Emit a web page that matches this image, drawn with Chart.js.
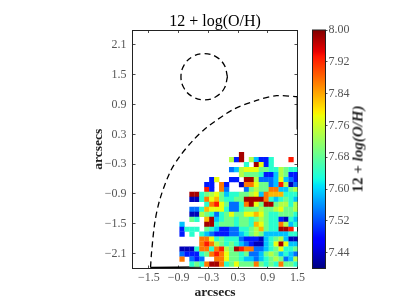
<!DOCTYPE html>
<html>
<head>
<meta charset="utf-8">
<title>12 + log(O/H)</title>
<script src="https://cdn.jsdelivr.net/npm/chart.js@4"></script>
<style>
    html, body { margin: 0; padding: 0; background: #fff; }
    #wrap { position: relative; width: 399px; height: 299px; overflow: hidden; }
    canvas { position: absolute; left: 0; top: 0; filter: blur(0.35px); }
    #cbLabel {
        position: absolute; left: 358px; top: 148.5px; white-space: nowrap;
        font: bold 15px "Liberation Serif", serif; color: #222;
        transform: translate(-50%, -50%) rotate(-90deg);
    }
</style>
</head>
<body>
<div id="wrap">
    <canvas id="mapChart" width="399" height="299"></canvas>
    <canvas id="barChart" width="399" height="299"></canvas>
    <div id="cbLabel">12 + <i>log(O/H)</i></div>
</div>
<script>
// columns (arcsec), rows (arcsec)
const colX = [-0.83, -0.73, -0.63, -0.53, -0.43, -0.33, -0.23, -0.13, -0.03, 0.07, 0.17, 0.27,
    0.37, 0.47, 0.57, 0.67, 0.77, 0.87, 0.97, 1.07, 1.17, 1.27, 1.37, 1.47];
const rowY = [-0.11, -0.21, -0.31, -0.41, -0.51, -0.61, -0.71, -0.81, -0.91, -1.01, -1.11, -1.21,
    -1.31, -1.41, -1.51, -1.61, -1.71, -1.81, -1.91, -2.01, -2.11, -2.21, -2.31];

// colour levels, one letter per pixel, '.' = no data
const levelCodes = ['k', 'b', 'l', 'c', 't', 'g', 'y', 'Y', 'o', 'O', 'r', 'd'];
const levelValues = [7.43, 7.49, 7.54, 7.59, 7.64, 7.69, 7.74, 7.78, 7.83, 7.87, 7.93, 7.98];
const rows = [
    '............d...........',
    '..........ybd.ycbbt...r.',
    '.............t.dYbt.....',
    '..........lcyYYYggttygtt',
    '............ygggtbbcygbb',
    '......bY..bb.ddylllcYclb',
    '.....bb.Ob..kOOYgglcrykl',
    '.....rb.Ol...lgyggOOccgy',
    '..ddtgyYgcttggyYcOooottt',
    '..kktOYogttggddddOtctgtc',
    '.....tOrYglltOdYgddgyyty',
    '..lltoYYYtlltgggyggyYggy',
    '..kkygtltgYggYYoYgttgggt',
    '..gt.odctggtggtgygttbktc',
    'c....ddtgggtggtoYgttOyct',
    'bttt.gtcbbllttgyogttddr.',
    'b.t.tclbbbllctgygccccctt',
    '....OOYtgtttlbbbkctgyckk',
    '....OrOygtgtclbkkctYdYcc',
    'kkktOOtOrygdrOOllctgYttg',
    'lbbbtgOrOYggtgllcgygctcl',
    'O.lbl..OOYggtcclctgyglcy',
    '..tgtOddOtgYgggOgtgtOggt'
];

// dashed outlines
const circleX = [0.086, 0.023, -0.148, -0.383, -0.618, -0.789, -0.852, -0.789, -0.618, -0.383, -0.148, 0.023, 0.086];
const circleY = [1.46, 1.693, 1.864, 1.926, 1.864, 1.693, 1.46, 1.227, 1.056, 0.994, 1.056, 1.227, 1.46];
const arcX = [-1.466, -1.445, -1.379, -1.278, -1.076, -0.874, -0.611, -0.334, 0.197, 0.676, 1.08, 1.49];
const arcY = [-2.375, -2.074, -1.472, -1.01, -0.468, -0.14, 0.175, 0.436, 0.797, 0.984, 1.078, 1.058];
// where the outline runs along the frame it reads as solid
const edgeBottomX = [-1.47, -0.45];
const edgeBottomY = [-2.38, -2.37];
const edgeRightX = [1.495, 1.495];
const edgeRightY = [1.05, 0.4];

const xTicks = [-1.5, -0.9, -0.3, 0.3, 0.9, 1.5];
const yTicks = [-2.1, -1.5, -0.9, -0.3, 0.3, 0.9, 1.5, 2.1];
const barTicks = [7.44, 7.52, 7.6, 7.68, 7.76, 7.84, 7.92, 8.0];
const valueMin = 7.4;
const valueMax = 8.0;

const SERIF = '"Liberation Serif", serif';
const TICK_FONT = { family: SERIF, size: 12 };
const TICK_COLOR = '#555';
const LINE_COLOR = '#222';

// matplotlib jet
function jet(t) {
    const ramp = (pts) => {
        for (let i = 1; i < pts.length; i++) {
            if (t <= pts[i][0]) {
                const f = (t - pts[i - 1][0]) / (pts[i][0] - pts[i - 1][0]);
                return Math.round(255 * (pts[i - 1][1] + f * (pts[i][1] - pts[i - 1][1])));
            }
        }
        return Math.round(255 * pts[pts.length - 1][1]);
    };
    const r = ramp([[0, 0], [0.35, 0], [0.66, 1], [0.89, 1], [1, 0.5]]);
    const g = ramp([[0, 0], [0.125, 0], [0.375, 1], [0.64, 1], [0.91, 0], [1, 0]]);
    const b = ramp([[0, 0.5], [0.11, 1], [0.34, 1], [0.65, 0], [1, 0]]);
    return `rgb(${r},${g},${b})`;
}

function valueColor(v) {
    return jet((v - valueMin) / (valueMax - valueMin));
}

function minusLabel(digits) {
    return v => (v < 0 ? '\u2212' : '') + Math.abs(v).toFixed(digits);
}

function buildCells() {
    const cells = [];
    rows.forEach((row, r) => {
        row.split('').forEach((code, c) => {
            const i = levelCodes.indexOf(code);
            if (i >= 0) cells.push({ x: colX[c], y: rowY[r], v: levelValues[i] });
        });
    });
    return cells;
}

function toPoints(xs, ys) {
    return xs.map((x, i) => ({ x, y: ys[i] }));
}

function outline(xs, ys, dash, tension) {
    return {
        data: toPoints(xs, ys),
        showLine: true,
        tension,
        pointRadius: 0,
        borderColor: '#000',
        borderWidth: 1.3,
        borderDash: dash,
        xAxisID: 'x',
        yAxisID: 'y'
    };
}

function axis(position, min, max, tickValues, size, withLabels) {
    const horizontal = position === 'top' || position === 'bottom';
    return {
        type: 'linear',
        position,
        min,
        max,
        afterBuildTicks: s => { s.ticks = tickValues.map(value => ({ value })); },
        afterFit: s => { if (horizontal) s.height = size; else s.width = size; },
        border: { display: true, color: LINE_COLOR, width: 1 },
        grid: { display: true, drawOnChartArea: false, drawTicks: true, tickLength: -3, tickColor: LINE_COLOR, tickWidth: 0.8 },
        ticks: {
            display: withLabels,
            autoSkip: false,
            maxRotation: 0,
            minRotation: 0,
            padding: horizontal ? 5 : 9,
            font: TICK_FONT,
            color: TICK_COLOR,
            callback: minusLabel(1)
        }
    };
}

const xBottom = axis('bottom', -1.83, 1.5, xTicks, 30.5, true);
xBottom.title = { display: true, text: 'arcsecs', font: { family: SERIF, size: 13.5, weight: 'bold', lineHeight: 1 }, color: '#222', padding: { top: 0, bottom: 0 } };
const yLeft = axis('left', -2.4, 2.4, yTicks, 132.5, true);
yLeft.title = { display: true, text: 'arcsecs', font: { family: SERIF, size: 13.5, weight: 'bold' }, color: '#222', padding: { top: 90, bottom: 0 } };

new Chart(document.getElementById('mapChart'), {
    type: 'scatter',
    data: {
        datasets: [
            {
                data: buildCells(),
                pointStyle: 'rect',
                pointRadius: 3.7,
                pointBorderWidth: 0,
                backgroundColor: ctx => ctx.raw ? valueColor(ctx.raw.v) : '#fff',
                xAxisID: 'x',
                yAxisID: 'y'
            },
            outline(circleX, circleY, [6, 4], 0.4),
            outline(arcX, arcY, [6, 4], 0.3),
            outline(edgeBottomX, edgeBottomY, [], 0),
            outline(edgeRightX, edgeRightY, [], 0)
        ]
    },
    options: {
        responsive: false,
        animation: false,
        layout: { padding: 0 },
        plugins: {
            legend: { display: false },
            tooltip: { enabled: false },
            title: {
                display: true,
                text: '12 + log(O/H)',
                fullSize: false,
                font: { family: SERIF, size: 16, weight: 'normal', lineHeight: 1 },
                color: '#000',
                padding: { top: 14, bottom: 0 }
            }
        },
        scales: {
            x: xBottom,
            y: yLeft,
            xTop: axis('top', -1.83, 1.5, xTicks, 0, false),
            yRight: axis('right', -2.4, 2.4, yTicks, 101.5, false)
        }
    }
});

const barCtx = document.getElementById('barChart');
new Chart(barCtx, {
    type: 'bar',
    data: {
        labels: ['12 + log(O/H)'],
        datasets: [{
            data: [[valueMin, valueMax]],
            barPercentage: 1,
            categoryPercentage: 1,
            backgroundColor: ctx => {
                const area = ctx.chart.chartArea;
                if (!area) return '#000';
                const g = ctx.chart.ctx.createLinearGradient(0, area.bottom, 0, area.top);
                for (let i = 0; i <= 100; i++) g.addColorStop(i / 100, jet(i / 100));
                return g;
            }
        }]
    },
    options: {
        responsive: false,
        animation: false,
        layout: { padding: { left: 312.5, top: 30, bottom: 30.5, right: 0 } },
        plugins: { legend: { display: false }, tooltip: { enabled: false } },
        scales: {
            x: { display: false },
            y: {
                position: 'right',
                min: valueMin,
                max: valueMax,
                afterBuildTicks: s => { s.ticks = barTicks.map(value => ({ value })); },
                afterFit: s => { s.width = 73.5; },
                border: { display: true, color: LINE_COLOR, width: 1 },
                grid: { display: true, drawOnChartArea: false, drawTicks: true, tickLength: 2, tickColor: LINE_COLOR, tickWidth: 0.8 },
                ticks: {
                    autoSkip: false,
                    padding: 1,
                    font: TICK_FONT,
                    color: TICK_COLOR,
                    callback: v => v.toFixed(2)
                }
            }
        }
    },
    plugins: [{
        id: 'barFrame',
        afterDatasetsDraw(chart) {
            const { ctx, chartArea: a } = chart;
            ctx.save();
            ctx.strokeStyle = LINE_COLOR;
            ctx.lineWidth = 1;
            ctx.strokeRect(a.left, a.top, a.right - a.left, a.bottom - a.top);
            ctx.restore();
        }
    }]
});
</script>
</body>
</html>
